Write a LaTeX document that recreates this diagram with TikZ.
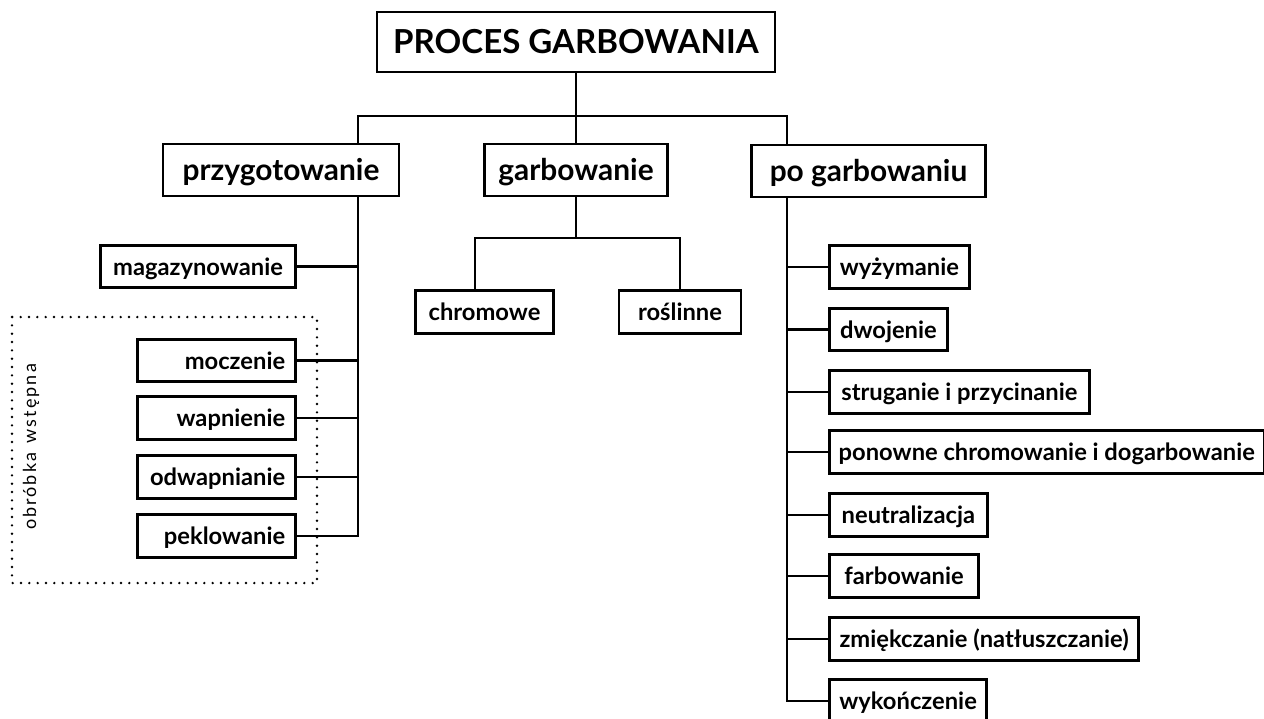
\documentclass[tikz,border=0pt]{standalone}
\usepackage{fontspec}
\setmainfont{Lato}
\usetikzlibrary{calc}
\tikzset{
    box/.style={draw, line width=2.1pt, inner sep=0pt, font=\bfseries},
    titlebox/.style={box, font=\fontsize{24.8}{28}\selectfont\bfseries, text height=20pt, text depth=3.5pt, minimum height=45pt},
    phasebox/.style={box, font=\fontsize{22.4}{26}\selectfont\bfseries, text height=19pt, text depth=3.2pt, minimum height=39pt},
    stepbox/.style={box, font=\fontsize{17.8}{21}\selectfont\bfseries, text height=15pt, text depth=2.2pt, minimum height=32pt},
    link/.style={line width=2.1pt},
    dotframe/.style={line width=2pt, line cap=round, dash pattern=on 0pt off 6.25pt},
}

\begin{document}
\begin{tikzpicture}[x=0.75pt, y=-0.75pt]
        \useasboundingbox[fill=white] (0, 0) rectangle (1264, 718);
        %top and main phases
        \node[titlebox, minimum width=298.5pt] (title) at (576, 42) {PROCES GARBOWANIA};
        \node[phasebox, minimum width=177pt] (prep) at (281, 170) {przygotowanie};
        \node[phasebox, minimum width=137pt] (tan) at (576, 170) {garbowanie};
        \node[phasebox, minimum width=175pt] (after) at (868.5, 171) {po garbowaniu};
        %branch lines
        \coordinate (bus) at (576, 116);
        \coordinate (prepline) at (358, 0);
        \coordinate (afterline) at (787, 0);
        \draw[link] (title.south) -- (bus);
        \draw[link] (bus) -- (tan.north);
        \draw[link] (prep.north -| prepline) |- (bus) -| (after.north -| afterline);
        %kinds of tanning
        \node[stepbox, minimum width=103pt] (chrome) at (484.5, 312) {chromowe};
        \node[stepbox, minimum width=91.5pt] (veg) at (680, 312) {roślinne};
        \coordinate (tanbus) at (576, 238);
        \coordinate (chromeline) at (475, 0);
        \draw[link] (tan.south) -- (tanbus);
        \draw[link] (chrome.north -| chromeline) |- (tanbus) -| (veg.north);
        %preparation steps
        \node[stepbox, minimum width=146pt] (store) at (198, 266.5) {magazynowanie};
        \node[stepbox, text width=103pt, inner xsep=8pt, align=right] (soak) at (216.5, 360.5) {moczenie};
        \node[stepbox, text width=103pt, inner xsep=8pt, align=right] (lime) at (216.5, 418) {wapnienie};
        \node[stepbox, text width=103pt, inner xsep=8pt, align=right] (delime) at (216.5, 477) {odwapnianie};
        \node[stepbox, text width=103pt, inner xsep=8pt, align=right] (pickle) at (216.5, 536) {peklowanie};
        \draw[link] (prep.south -| prepline) |- (pickle.east);
        \foreach \n in {store, soak, lime, delime}
            \draw[link] (\n.east) -- (\n.east -| prepline);
        %pretreatment frame
        \draw[dotframe] (12, 317) rectangle (317, 583);
        \node[rotate=90, font=\fontsize{13.5}{16}\selectfont\addfontfeature{LetterSpace=11.5}] (pretreat) at (31, 447) {obróbka\hspace{0.15em} wstępna};
        %after tanning steps
        \node[stepbox, anchor=west, minimum width=105pt] (wring) at (828, 267) {wyżymanie};
        \node[stepbox, anchor=west, minimum width=88.5pt] (split) at (828, 329.5) {dwojenie};
        \node[stepbox, anchor=west, minimum width=195pt] (shave) at (828, 392) {struganie i przycinanie};
        \node[stepbox, anchor=west, minimum width=326pt] (retan) at (828, 452) {ponowne chromowanie i dogarbowanie};
        \node[stepbox, anchor=west, minimum width=118.5pt] (neutral) at (828, 515) {neutralizacja};
        \node[stepbox, anchor=west, minimum width=112pt] (dye) at (828, 576) {farbowanie};
        \node[stepbox, anchor=west, minimum width=232pt] (soften) at (828, 639) {zmiękczanie (natłuszczanie)};
        \node[stepbox, anchor=west, minimum width=118pt] (finish) at (828, 701) {wykończenie};
        \draw[link] (after.south -| afterline) |- (finish.west);
        \foreach \n in {wring, split, shave, retan, neutral, dye, soften}
            \draw[link] (\n.west) -- (\n.west -| afterline);
    \end{tikzpicture}
\end{document}
